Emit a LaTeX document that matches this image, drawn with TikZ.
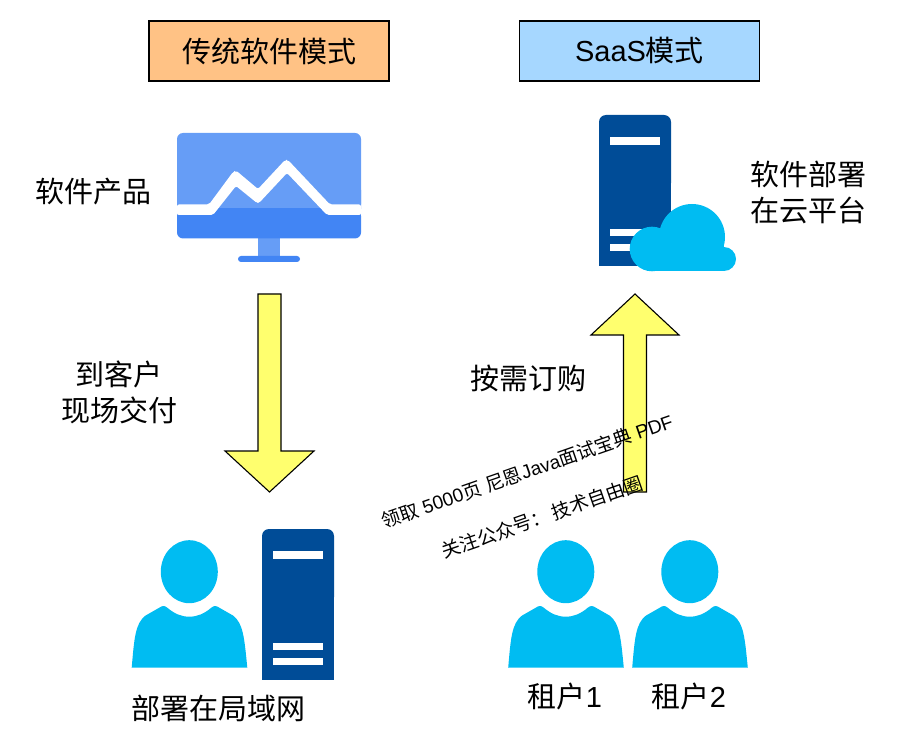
\documentclass[tikz,border=0pt]{standalone}
\usepackage{fontspec}
\setmainfont{Liberation Sans}
\newfontfamily\cjk{Noto Sans CJK SC}
\definecolor{cLight}{HTML}{669DF6}
\definecolor{cDark}{HTML}{4285F4}
\definecolor{cServer}{HTML}{004C97}
\definecolor{cCloud}{HTML}{00BCF2}
\definecolor{cArrow}{HTML}{FFFF6E}
\definecolor{cOrange}{HTML}{FFC285}
\definecolor{cBlue}{HTML}{A6D7FF}
\tikzset{
  x=1pt,y=-1pt,
  title/.style={draw=black,line width=1.1pt,minimum width=240pt,minimum height=60pt,inner sep=0pt,font=\fontsize{29}{34}\selectfont},
  lbl/.style={inner sep=0pt,align=center,font=\fontsize{29}{36}\selectfont},
  wm/.style={inner sep=0pt,rotate=19.2,font=\fontsize{19}{23}\selectfont},
  blockarrow/.style={draw=black,line width=1.1pt,fill=cArrow,line join=miter},
  bar/.style={fill=white},
  pic server/.pic={
    \fill[cServer,rounded corners=7pt] (0,75) -- (0,0) -- (72,0) -- (72,75) -- cycle;
    \fill[cServer] (0,40) rectangle (72,151);
    \fill[bar] (11,22) rectangle (61,30);
    \fill[bar] (11,114) rectangle (61,121);
    \fill[bar] (11,129) rectangle (61,136);
  },
  pic person/.pic={
    \fill[cCloud] (0,0) ellipse [x radius=28.5,y radius=31.5];
    \fill[cCloud] (-57.6,96) .. controls (-55,66) and (-54,52) .. (-44,44)
      -- (-30,36) .. controls (-27,34) and (-25,33.5) .. (-22,36)
      .. controls (-15,42) and (-8,45) .. (0,45)
      .. controls (8,45) and (15,42) .. (22,36)
      .. controls (25,33.5) and (27,34) .. (30,36)
      -- (44,44) .. controls (54,52) and (55,66) .. (58,96) -- cycle;
  }
}
\begin{document}
\begin{tikzpicture}
\useasboundingbox (0,0) rectangle (898,754);
\node[title,fill=cOrange] (t1) at (269,51) {\cjk 传统软件模式};
\node[title,fill=cBlue] (t2) at (639.5,51) {SaaS{\cjk 模式}};

% monitor
\fill[cLight,rounded corners=6pt] (177,215) -- (177,133) -- (361,133) -- (361,215) -- cycle;
\fill[cLight] (258,236) rectangle (280,257);
\fill[cDark,rounded corners=6pt] (177,210) -- (177,238.5) -- (361,238.5) -- (361,210) -- cycle;
\fill[cDark] (177,208) -- (361,208) -- (361,212) -- (177,212) -- cycle;
\fill[cDark,rounded corners=3pt] (238,256) rectangle (300,262);
\fill[cLight] (177,190) -- (361,190) -- (361,204.5) -- (330,204.5) -- (287,160) -- (258,189) -- (235,172) -- (209,204.5) -- (177,204.5) -- cycle;
\fill[white,rounded corners=2pt] (177,204.5) -- (209,204.5) -- (233,172) -- (236,170.5) -- (258,189) -- (285,160) -- (288,160) -- (330,204.5) -- (361,204.5) -- (361,215) -- (327,215) -- (287,173) -- (259,203) -- (257,203) -- (236,186) -- (213,215) -- (177,215) -- cycle;

% server + cloud
\pic at (599,115) {pic server};
\fill[cCloud] (652,249) circle [radius=22.3];
\fill[cCloud] (692,237) circle [radius=33];
\fill[cCloud] (724,259) circle [radius=12];
\fill[cCloud] (652,246) rectangle (724,271);

% arrows
\path[blockarrow] (258,294) -- (281,294) -- (281,451) -- (314,451) -- (269.5,492) -- (225,451) -- (258,451) -- cycle;
\path[blockarrow] (623.5,492) -- (646.5,492) -- (646.5,335) -- (679,335) -- (635,294) -- (591,335) -- (623.5,335) -- cycle;

% people and server
\pic at (189.3,571.7) {pic person};
\pic at (262,529) {pic server};
\pic at (565.8,571.7) {pic person};
\pic at (689.8,571.7) {pic person};

% labels
\node[lbl] (a) at (93,192) {\cjk 软件产品};
\node[lbl] (b) at (808.5,192) {\cjk 软件部署\\\cjk 在云平台};
\node[lbl] (c) at (119,392) {\cjk 到客户\\\cjk 现场交付};
\node[lbl] (d) at (528,378) {\cjk 按需订购};
\node[lbl] (e) at (218,708) {\cjk 部署在局域网};
\node[lbl] (f) at (565,696) {{\cjk 租户}1};
\node[lbl] (g) at (689,696) {{\cjk 租户}2};
\node[wm] (w1) at (527,471) {{\cjk 领取} 5000{\cjk 页} {\cjk 尼恩}Java{\cjk 面试宝典} PDF};
\node[wm] (w2) at (542,517) {{\cjk 关注公众号：}\,{\cjk 技术自由圈}};
\end{tikzpicture}
\end{document}
